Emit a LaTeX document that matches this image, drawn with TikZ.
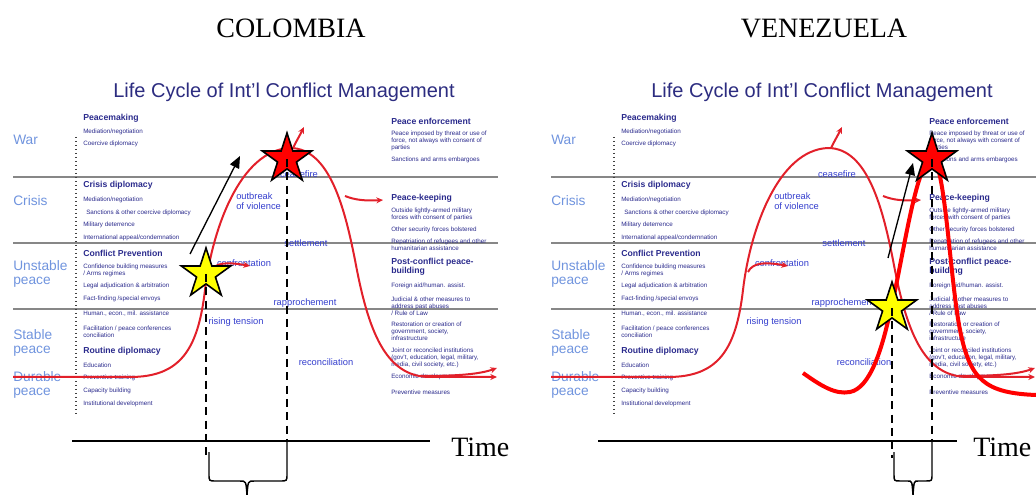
\documentclass[tikz,border=0pt]{standalone}
\usepackage{fontspec}
\setmainfont{Liberation Serif}
\newfontfamily\arialf{Liberation Sans}
\usetikzlibrary{shapes.geometric,arrows.meta}
\definecolor{lvlblue}{RGB}{112,148,222}
\definecolor{itemnavy}{RGB}{42,42,140}
\definecolor{ttlnavy}{RGB}{44,44,128}
\definecolor{clabblue}{RGB}{52,62,205}
\definecolor{linegray}{RGB}{135,135,135}
\definecolor{slidered}{RGB}{226,32,42}
\definecolor{starred}{RGB}{255,0,0}
\definecolor{staryellow}{RGB}{255,255,0}
\tikzset{
  ttl/.style={font=\arialf\fontsize{15}{17}\selectfont, text=ttlnavy, inner sep=0pt},
  lvl/.style={font=\arialf\fontsize{10.3}{10.5}\selectfont, text=lvlblue, anchor=west, align=left, inner sep=0pt},
  itm/.style={font=\arialf\fontsize{4.7}{5.2}\selectfont, text=itemnavy, anchor=west, align=left, inner sep=0pt},
  hd/.style={font=\arialf\bfseries\fontsize{6.5}{6}\selectfont, text=itemnavy, anchor=west, align=left, inner sep=0pt},
  clab/.style={font=\arialf\fontsize{7}{7.5}\selectfont, text=clabblue, align=left, inner sep=0pt},
  grayline/.style={draw=linegray, line width=0.8pt},
  dotv/.style={draw=black!75, line width=1.1pt, dash pattern=on 0.9pt off 2.1pt},
  slidecurve/.style={draw=slidered, line width=1.5pt},
  slidearrow/.style={slidecurve, -{Stealth[length=5pt,width=4.5pt]}},
  bigcurve/.style={draw=starred, line width=3pt},
  starbase/.style={star, star points=5, star point ratio=2.618, minimum size=39pt, inner sep=0pt, draw=black, line width=1.2pt},
  ystar/.style={starbase, fill=staryellow},
  rstar/.style={starbase, fill=starred},
  dashv/.style={draw=black, line width=1.2pt, dash pattern=on 6pt off 4pt},
  bracepath/.style={draw=black, line width=1.1pt},
  tarrow/.style={draw=black, line width=1pt, -{Triangle[length=9pt,width=7.5pt]}},
  timeline/.style={draw=black, line width=1.5pt},
  headlab/.style={font=\fontsize{21}{24}\selectfont, inner sep=0pt},
  timelab/.style={font=\fontsize{21}{24}\selectfont, inner sep=0pt, anchor=west},
}
\newcommand\slidebody{%
  \draw[grayline] (13,177) -- (498,177);
  \draw[grayline] (13,243) -- (498,243);
  \draw[grayline] (13,309) -- (498,309);
  \draw[dotv] (76,137) -- (76,416);
  \node[ttl] (title) at (284,92) {Life Cycle of Int’l Conflict Management};
  \node[lvl] (war) at (13,140) {War};
  \node[lvl] (crisis) at (13,201) {Crisis};
  \node[lvl] (unstable) at (13,274) {Unstable\\peace};
  \node[lvl] (stable) at (13,343) {Stable\\peace};
  \node[lvl] (durable) at (13,385) {Durable\\peace};
  \node[hd] (pm) at (83,118) {Peacemaking};
  \node[itm] (l1) at (83,132) {Mediation/negotiation};
  \node[itm] (l2) at (83,144) {Coercive diplomacy};
  \node[hd] (cd) at (83,185) {Crisis diplomacy};
  \node[itm] (l3) at (83,200) {Mediation/negotiation};
  \node[itm] (l4) at (86,213) {Sanctions \& other coercive diplomacy};
  \node[itm] (l5) at (83,225) {Military deterrence};
  \node[itm] (l6) at (83,238) {International appeal/condemnation};
  \node[hd] (cp) at (83,253) {Conflict Prevention};
  \node[itm] (l7) at (83,270) {Confidence building measures\\/ Arms regimes};
  \node[itm] (l8) at (83,286) {Legal adjudication \& arbitration};
  \node[itm] (l9) at (83,299) {Fact-finding /special envoys};
  \node[itm] (l10) at (83,314) {Human., econ., mil. assistance};
  \node[itm] (l11) at (83,332) {Facilitation / peace conferences\\conciliation};
  \node[hd] (rd) at (83,351) {Routine diplomacy};
  \node[itm] (l12) at (83,365) {Education};
  \node[itm] (l13) at (83,378) {Preventive training};
  \node[itm] (l14) at (83,391) {Capacity building};
  \node[itm] (l15) at (83,404) {Institutional development};
  \node[hd] (pe) at (391,121) {Peace enforcement};
  \node[itm] (r1) at (391,141) {Peace imposed by threat or use of\\force, not always with consent of\\parties};
  \node[itm] (r2) at (391,160) {Sanctions and arms embargoes};
  \node[hd] (pk) at (391,198) {Peace-keeping};
  \node[itm] (r3) at (391,214) {Outside lightly-armed military\\forces with consent of parties};
  \node[itm] (r4) at (391,230) {Other security forces bolstered};
  \node[itm] (r5) at (391,245) {Repatriation of refugees and other\\humanitarian assistance};
  \node[hd] (pb) at (391,267) {Post-conflict peace-\\building};
  \node[itm] (r6) at (391,286) {Foreign aid/human. assist.};
  \node[itm] (r7) at (391,306) {Judicial \& other measures to\\address past abuses\\/ Rule of Law};
  \node[itm] (r8) at (391,331) {Restoration or creation of\\government, society,\\infrastructure};
  \node[itm] (r9) at (391,358) {Joint or reconciled institutions\\(gov’t, education, legal, military,\\media, civil society, etc.)};
  \node[itm] (r10) at (391,377) {Economic development};
  \node[itm] (r11) at (391,392) {Preventive measures};
  \node[clab, anchor=west] (outbreak) at (236,201) {outbreak\\of violence};
  \node[clab] (ceasefire) at (299,174) {ceasefire};
  \node[clab] (settlement) at (306,243) {settlement};
  \node[clab] (confront) at (244,263) {confrontation};
  \node[clab] (rapproch) at (305,303) {rapprochement};
  \node[clab] (rising) at (236,322) {rising tension};
  \node[clab] (reconc) at (326,362) {reconciliation};
  \draw[slidearrow] (13,377) -- (130,377)
     .. controls (180,377) and (198,350) .. (205,290)
     .. controls (212,230) and (240,150) .. (290,148)
     .. controls (330,148) and (345,210) .. (355,260)
     .. controls (368,330) and (385,377) .. (430,377) -- (497,377);
  \draw[slidearrow] (420,376) .. controls (460,376) and (480,374) .. (497,368);
  \draw[slidearrow] (293,148) .. controls (297,140) and (300,135) .. (304,127);
  \draw[slidearrow] (345,196) .. controls (355,200) and (365,201) .. (383,200);
  \draw[slidearrow] (210,272) .. controls (215,262) and (228,262) .. (250,266);
}
\begin{document}
\begin{tikzpicture}[x=0.75pt,y=-0.75pt]
\useasboundingbox (0,0) rectangle (1036,495);
\node[headlab] (colombia) at (291,28) {COLOMBIA};
\node[headlab] (venezuela) at (824,28) {VENEZUELA};
\begin{scope}[name prefix=A-]
  \slidebody
\end{scope}
\begin{scope}[shift={(538,0)}, name prefix=B-]
  \slidebody
\end{scope}
% ---- panel 1 annotations
\coordinate (t1a) at (72,441);
\coordinate (t1b) at (430,441);
\draw[timeline] (t1a) -- (t1b);
\node[timelab] (time1) at (451,447) {Time};
\node[ystar] (Y1) at (206,274) {};
\node[rstar] (R1) at (287,159) {};
\coordinate (a1s) at (190,254);
\coordinate (a1e) at (240,156);
\draw[tarrow] (a1s) -- (a1e);
\coordinate (d1a) at (206,458);
\coordinate (d1b) at (287,441);
\draw[dashv] (Y1.center) -- (d1a);
\draw[dashv] (R1.center) -- (d1b);
\draw[bracepath] (209,452) -- (209,474) .. controls (209,481) .. (216,481) -- (240,481)
   .. controls (246,481) .. (247,495) .. controls (248,481) .. (254,481) -- (280,481)
   .. controls (287,481) .. (287,474) -- (287,441);
% ---- panel 2 annotations
\coordinate (t2a) at (598,441);
\coordinate (t2b) at (957,441);
\draw[timeline] (t2a) -- (t2b);
\node[timelab] (time2) at (973,447) {Time};
\draw[bigcurve] (803,373) .. controls (820,385) and (835,395) .. (850,392)
   .. controls (870,388) and (882,350) .. (891,308)
   .. controls (902,265) and (916,160) .. (932,158)
   .. controls (945,160) and (950,280) .. (960,330)
   .. controls (970,380) and (985,393) .. (1036,395);
\node[ystar] (Y2) at (892,308) {};
\node[rstar] (R2) at (932,159) {};
\coordinate (a2s) at (888,258);
\coordinate (a2e) at (913,163);
\draw[tarrow] (a2s) -- (a2e);
\coordinate (d2a) at (892,458);
\coordinate (d2b) at (932,441);
\draw[dashv] (Y2.center) -- (d2a);
\draw[dashv] (R2.center) -- (d2b);
\draw[bracepath] (894,452) -- (894,474) .. controls (894,481) .. (900,481) -- (908,481)
   .. controls (912,481) .. (913,495) .. controls (914,481) .. (918,481) -- (926,481)
   .. controls (932,481) .. (932,474) -- (932,441);
\end{tikzpicture}
\end{document}
